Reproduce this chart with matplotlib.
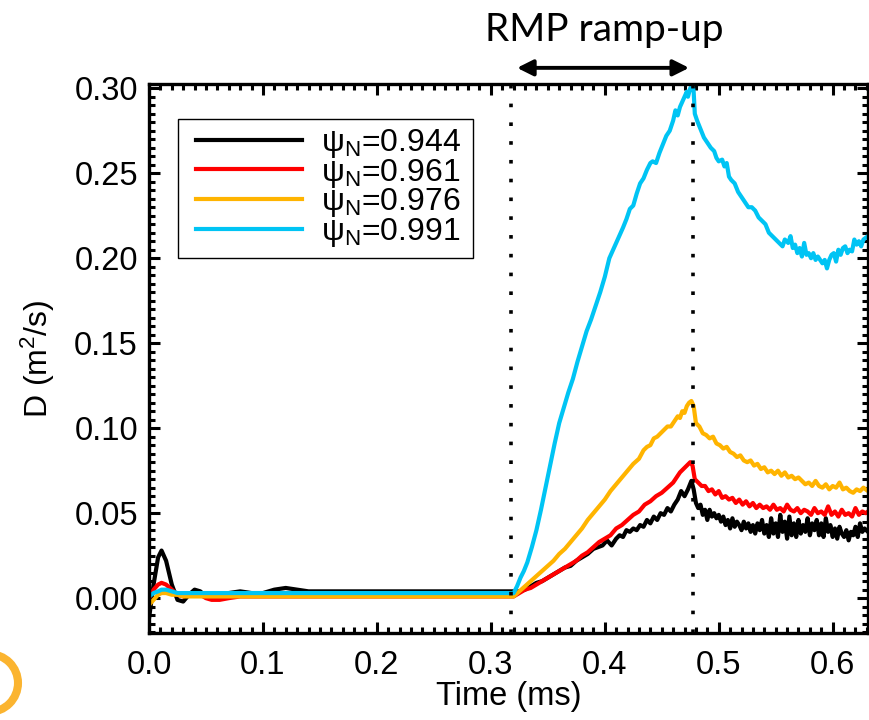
"""
D(t) 在不同 psi_N 位置的演化，RMP 上升阶段前后对比
"""

import numpy as np
import matplotlib
matplotlib.use("Agg")
import matplotlib.pyplot as plt
from matplotlib.patches import Circle, Rectangle
from matplotlib.ticker import MultipleLocator, FormatStrFormatter

plt.rcParams["font.family"] = ["Liberation Sans", "DejaVu Sans"]
plt.rcParams["mathtext.fontset"] = "custom"
plt.rcParams["mathtext.rm"] = "Liberation Sans"
plt.rcParams["mathtext.it"] = "Liberation Sans:italic"

# ---------------------------------------------------------------------------
# 数据（从图上读出，单位: ms, m^2/s）
# ---------------------------------------------------------------------------
labels = [r"$\mathregular{\psi_N}$=0.944", r"$\mathregular{\psi_N}$=0.961",
          r"$\mathregular{\psi_N}$=0.976", r"$\mathregular{\psi_N}$=0.991"]
colors = ["black", "#ff0000", "#ffb400", "#00c4f4"]

ramp_start = 0.318
ramp_end = 0.477

# 共用的早期时间点（RMP 前）
t_pre = [0.0, 0.004, 0.008, 0.011, 0.015, 0.02, 0.025, 0.03, 0.035, 0.04, 0.045,
         0.05, 0.055, 0.062, 0.07, 0.08, 0.09, 0.1, 0.11, 0.12, 0.13, 0.14, 0.16,
         0.2, 0.25, 0.3]
d_pre_944 = [-0.012, 0.008, 0.024, 0.028, 0.022, 0.008, -0.001, -0.002, 0.002, 0.005,
             0.004, 0.001, 0.000, 0.001, 0.003, 0.004, 0.003, 0.003, 0.005, 0.006,
             0.005, 0.004, 0.004, 0.004, 0.004, 0.004]
d_pre_961 = [0.000, 0.005, 0.008, 0.009, 0.008, 0.005, 0.002, 0.001, 0.002, 0.003,
             0.002, 0.000, -0.001, -0.001, 0.000, 0.001, 0.001, 0.001, 0.001, 0.001,
             0.001, 0.001, 0.001, 0.001, 0.001, 0.001]
d_pre_976 = [-0.004, -0.001, 0.002, 0.003, 0.003, 0.002, 0.002, 0.001, 0.001, 0.001,
             0.001, 0.001, 0.001, 0.001, 0.001, 0.001, 0.001, 0.001, 0.001, 0.001,
             0.001, 0.001, 0.001, 0.001, 0.001, 0.001]
d_pre_991 = [0.001, 0.003, 0.004, 0.005, 0.005, 0.004, 0.003, 0.003, 0.003, 0.003,
             0.003, 0.003, 0.003, 0.003, 0.003, 0.003, 0.003, 0.003, 0.003, 0.003,
             0.003, 0.003, 0.003, 0.003, 0.003, 0.003]

# RMP 之后 (t, D)
post_944 = [
    (0.320, 0.004), (0.325, 0.004), (0.330, 0.005), (0.335, 0.007), (0.340, 0.009),
    (0.345, 0.010), (0.350, 0.012), (0.355, 0.014), (0.360, 0.016), (0.365, 0.018),
    (0.370, 0.019), (0.375, 0.022), (0.380, 0.024), (0.385, 0.026), (0.390, 0.029),
    (0.394, 0.030), (0.398, 0.031), (0.402, 0.034), (0.406, 0.031), (0.410, 0.035),
    (0.413, 0.037), (0.416, 0.036), (0.419, 0.040), (0.422, 0.039), (0.425, 0.041),
    (0.428, 0.040), (0.431, 0.043), (0.434, 0.042), (0.437, 0.046), (0.440, 0.044),
    (0.443, 0.048), (0.446, 0.046), (0.449, 0.050), (0.452, 0.049), (0.455, 0.053),
    (0.458, 0.051), (0.461, 0.055), (0.464, 0.058), (0.467, 0.063), (0.470, 0.060),
    (0.473, 0.064), (0.476, 0.069), (0.478, 0.064), (0.480, 0.056), (0.482, 0.053),
    (0.484, 0.055), (0.486, 0.049), (0.488, 0.052), (0.490, 0.046), (0.492, 0.052),
    (0.494, 0.048), (0.496, 0.050), (0.498, 0.047), (0.500, 0.049), (0.502, 0.045),
    (0.504, 0.048), (0.506, 0.043), (0.508, 0.046), (0.510, 0.041), (0.512, 0.047),
    (0.514, 0.042), (0.516, 0.045), (0.518, 0.043), (0.520, 0.040), (0.522, 0.045),
    (0.524, 0.041), (0.526, 0.044), (0.528, 0.039), (0.530, 0.043), (0.532, 0.038),
    (0.534, 0.044), (0.536, 0.040), (0.538, 0.046), (0.540, 0.038), (0.542, 0.043),
    (0.544, 0.036), (0.546, 0.047), (0.548, 0.038), (0.550, 0.044), (0.552, 0.036),
    (0.554, 0.049), (0.556, 0.039), (0.558, 0.045), (0.560, 0.035), (0.562, 0.048),
    (0.564, 0.037), (0.566, 0.044), (0.568, 0.036), (0.570, 0.046), (0.572, 0.038),
    (0.574, 0.043), (0.576, 0.039), (0.578, 0.047), (0.580, 0.037), (0.582, 0.044),
    (0.584, 0.040), (0.586, 0.046), (0.588, 0.037), (0.590, 0.044), (0.592, 0.036),
    (0.594, 0.047), (0.596, 0.039), (0.598, 0.043), (0.600, 0.036), (0.602, 0.041),
    (0.604, 0.035), (0.606, 0.042), (0.608, 0.038), (0.610, 0.036), (0.612, 0.040),
    (0.614, 0.034), (0.616, 0.039), (0.618, 0.037), (0.620, 0.042), (0.622, 0.036),
    (0.624, 0.044), (0.626, 0.039), (0.628, 0.041), (0.631, 0.039),
]
post_961 = [
    (0.320, 0.001), (0.325, 0.003), (0.330, 0.005), (0.335, 0.006), (0.340, 0.008),
    (0.345, 0.010), (0.350, 0.012), (0.355, 0.014), (0.360, 0.016), (0.365, 0.018),
    (0.370, 0.020), (0.375, 0.022), (0.380, 0.025), (0.385, 0.027), (0.390, 0.030),
    (0.395, 0.033), (0.400, 0.035), (0.405, 0.037), (0.410, 0.041), (0.415, 0.043),
    (0.420, 0.046), (0.425, 0.049), (0.430, 0.051), (0.435, 0.055), (0.440, 0.057),
    (0.445, 0.060), (0.450, 0.062), (0.455, 0.065), (0.460, 0.068), (0.463, 0.071),
    (0.466, 0.074), (0.469, 0.076), (0.472, 0.078), (0.475, 0.080), (0.477, 0.078),
    (0.479, 0.070), (0.482, 0.068), (0.485, 0.066), (0.488, 0.066), (0.491, 0.063),
    (0.494, 0.064), (0.497, 0.061), (0.500, 0.063), (0.503, 0.059), (0.506, 0.060),
    (0.509, 0.058), (0.512, 0.059), (0.515, 0.056), (0.518, 0.058), (0.521, 0.055),
    (0.524, 0.057), (0.527, 0.054), (0.530, 0.056), (0.533, 0.053), (0.536, 0.055),
    (0.539, 0.053), (0.542, 0.054), (0.545, 0.052), (0.548, 0.055), (0.551, 0.052),
    (0.554, 0.053), (0.557, 0.051), (0.560, 0.055), (0.563, 0.052), (0.566, 0.051),
    (0.569, 0.053), (0.572, 0.050), (0.575, 0.052), (0.578, 0.051), (0.581, 0.049),
    (0.584, 0.053), (0.587, 0.050), (0.590, 0.051), (0.593, 0.049), (0.596, 0.054),
    (0.599, 0.049), (0.602, 0.051), (0.605, 0.048), (0.608, 0.052), (0.611, 0.049),
    (0.614, 0.050), (0.617, 0.048), (0.620, 0.053), (0.623, 0.049), (0.626, 0.051),
    (0.629, 0.050), (0.631, 0.051),
]
post_976 = [
    (0.320, 0.001), (0.325, 0.004), (0.330, 0.007), (0.335, 0.010), (0.340, 0.013),
    (0.345, 0.016), (0.350, 0.019), (0.355, 0.022), (0.360, 0.026), (0.365, 0.029),
    (0.370, 0.033), (0.375, 0.037), (0.380, 0.041), (0.385, 0.046), (0.390, 0.050),
    (0.395, 0.054), (0.400, 0.058), (0.405, 0.063), (0.410, 0.067), (0.415, 0.071),
    (0.420, 0.075), (0.425, 0.079), (0.430, 0.082), (0.434, 0.087), (0.437, 0.089),
    (0.440, 0.090), (0.443, 0.094), (0.446, 0.095), (0.449, 0.097), (0.452, 0.099),
    (0.455, 0.101), (0.458, 0.101), (0.461, 0.104), (0.464, 0.107), (0.466, 0.106),
    (0.468, 0.110), (0.470, 0.109), (0.472, 0.113), (0.474, 0.115), (0.476, 0.116),
    (0.478, 0.113), (0.480, 0.103), (0.483, 0.101), (0.486, 0.097), (0.489, 0.096),
    (0.492, 0.094), (0.495, 0.095), (0.498, 0.091), (0.501, 0.090), (0.504, 0.088),
    (0.507, 0.089), (0.510, 0.086), (0.513, 0.085), (0.516, 0.083), (0.519, 0.084),
    (0.522, 0.081), (0.525, 0.080), (0.528, 0.081), (0.531, 0.078), (0.534, 0.079),
    (0.537, 0.076), (0.540, 0.077), (0.543, 0.074), (0.546, 0.075), (0.549, 0.073),
    (0.552, 0.075), (0.555, 0.072), (0.558, 0.074), (0.561, 0.071), (0.564, 0.072),
    (0.567, 0.070), (0.570, 0.071), (0.573, 0.069), (0.576, 0.067), (0.579, 0.068),
    (0.582, 0.066), (0.585, 0.069), (0.588, 0.066), (0.591, 0.065), (0.594, 0.067),
    (0.597, 0.064), (0.600, 0.066), (0.603, 0.065), (0.606, 0.068), (0.609, 0.064),
    (0.612, 0.065), (0.615, 0.063), (0.618, 0.062), (0.621, 0.064), (0.624, 0.063),
    (0.627, 0.065), (0.631, 0.063),
]
post_991 = [
    (0.320, 0.003), (0.323, 0.007), (0.326, 0.012), (0.329, 0.016), (0.332, 0.021),
    (0.336, 0.030), (0.340, 0.040), (0.344, 0.052), (0.348, 0.065), (0.352, 0.078),
    (0.356, 0.091), (0.360, 0.103), (0.364, 0.112), (0.368, 0.121), (0.372, 0.129),
    (0.376, 0.139), (0.380, 0.148), (0.384, 0.157), (0.388, 0.164), (0.392, 0.172),
    (0.396, 0.180), (0.400, 0.189), (0.404, 0.200), (0.408, 0.206), (0.412, 0.212),
    (0.416, 0.218), (0.419, 0.223), (0.422, 0.229), (0.425, 0.231), (0.428, 0.238),
    (0.431, 0.244), (0.434, 0.247), (0.437, 0.252), (0.440, 0.256), (0.442, 0.257),
    (0.445, 0.256), (0.448, 0.262), (0.451, 0.267), (0.454, 0.272), (0.457, 0.275),
    (0.460, 0.281), (0.462, 0.287), (0.464, 0.284), (0.466, 0.289), (0.468, 0.292),
    (0.470, 0.295), (0.472, 0.298), (0.473, 0.295), (0.475, 0.300), (0.477, 0.302),
    (0.478, 0.298), (0.479, 0.285), (0.481, 0.281), (0.484, 0.276), (0.487, 0.271),
    (0.490, 0.268), (0.493, 0.265), (0.496, 0.263), (0.498, 0.259), (0.500, 0.257),
    (0.503, 0.258), (0.505, 0.254), (0.507, 0.256), (0.509, 0.248), (0.511, 0.246),
    (0.514, 0.244), (0.517, 0.239), (0.520, 0.236), (0.523, 0.233), (0.526, 0.230),
    (0.529, 0.230), (0.532, 0.228), (0.535, 0.224), (0.538, 0.222), (0.541, 0.220),
    (0.544, 0.215), (0.547, 0.213), (0.550, 0.211), (0.553, 0.209), (0.556, 0.207),
    (0.558, 0.211), (0.561, 0.209), (0.563, 0.213), (0.565, 0.206), (0.567, 0.208),
    (0.569, 0.203), (0.571, 0.206), (0.573, 0.201), (0.575, 0.209), (0.577, 0.202),
    (0.579, 0.203), (0.581, 0.200), (0.583, 0.203), (0.585, 0.199), (0.587, 0.201),
    (0.589, 0.199), (0.591, 0.197), (0.593, 0.199), (0.595, 0.194), (0.597, 0.199),
    (0.599, 0.202), (0.601, 0.203), (0.603, 0.198), (0.605, 0.205), (0.607, 0.202),
    (0.609, 0.206), (0.611, 0.207), (0.613, 0.203), (0.615, 0.205), (0.617, 0.204),
    (0.619, 0.211), (0.621, 0.208), (0.623, 0.210), (0.625, 0.207), (0.627, 0.211),
    (0.629, 0.212), (0.631, 0.213),
]

pre_list = [d_pre_944, d_pre_961, d_pre_976, d_pre_991]
post_list = [post_944, post_961, post_976, post_991]

# ---------------------------------------------------------------------------
# 画图
# ---------------------------------------------------------------------------
fig = plt.figure(figsize=(8.69, 7.2), dpi=100)
ax = fig.add_axes([149 / 869, 1 - 633 / 720, 719 / 869, 549 / 720])

for pre, post, c, lab in zip(pre_list, post_list, colors, labels):
    tp, dp = np.array(post).T
    t = np.concatenate([t_pre, tp])
    d = np.concatenate([pre, dp])
    ax.plot(t, d, color=c, lw=3.0, label=lab)

for xv in (ramp_start, ramp_end):
    ax.axvline(xv, color="black", lw=2.6, ls=(0, (1, 4.2)), zorder=5)

ax.set_xlim(0, 0.631)
ax.set_ylim(-0.0205, 0.3025)
ax.xaxis.set_major_locator(MultipleLocator(0.1))
ax.xaxis.set_minor_locator(MultipleLocator(0.01))
ax.yaxis.set_major_locator(MultipleLocator(0.05))
ax.yaxis.set_minor_locator(MultipleLocator(0.005))
ax.xaxis.set_major_formatter(FormatStrFormatter("%.1f"))
ax.yaxis.set_major_formatter(FormatStrFormatter("%.2f"))
ax.tick_params(which="both", direction="in", top=True, right=True,
               labelsize=23.5, width=2.2)
ax.tick_params(which="major", length=8)
ax.tick_params(which="minor", length=4)
ax.tick_params(axis="x", which="major", pad=12.5)
ax.tick_params(axis="y", which="major", pad=8)
for s in ax.spines.values():
    s.set_linewidth(2.4)

ax.set_xlabel("Time (ms)", fontsize=23.5)
ax.xaxis.set_label_coords(0.5, -0.087)
ax.set_ylabel(r"D (m$^\mathregular{2}$/s)", fontsize=23, labelpad=12)

# 图例：边框单独画，便于控制留白
ax.add_patch(Rectangle((0.0403, 0.683), 0.4103, 0.253, transform=ax.transAxes,
                       fill=True, facecolor="white", edgecolor="black", lw=1.0,
                       zorder=6))
leg = ax.legend(loc="upper left", bbox_to_anchor=(0.066, 0.922), fontsize=23,
                frameon=False, handlelength=3.3, handletextpad=0.6,
                labelspacing=-0.1, borderpad=0, borderaxespad=0)
leg.set_zorder(7)
for line in leg.get_lines():
    line.set_linewidth(3.0)

# 顶部的 RMP ramp-up 标注
ax.annotate("", xy=(0.323, 0.312), xytext=(0.474, 0.312),
            xycoords="data", annotation_clip=False,
            arrowprops=dict(arrowstyle="<|-|>", color="black", lw=2.8,
                            mutation_scale=24, shrinkA=0, shrinkB=0))
ax.text(0.3995, 0.334, "RMP ramp-up", fontsize=28, family=["Lato", "DejaVu Sans"],
        ha="center", va="center", clip_on=False)

# 左下角的 logo 残影
fig.add_artist(Circle((-0.11, 0.37), 0.29, transform=fig.dpi_scale_trans,
                      fill=False, lw=5.8, edgecolor="#fbb430"))

fig.savefig("out.png", dpi=100)
